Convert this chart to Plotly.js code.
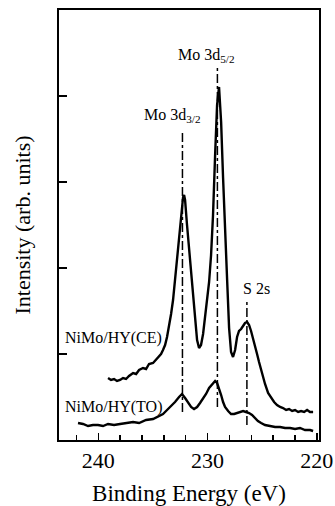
<!DOCTYPE html>
<html>
<head>
<meta charset="utf-8">
<script src="https://cdn.plot.ly/plotly-3.0.1.min.js"></script>
<style>html,body{margin:0;padding:0;background:#fff;}#chart{width:335px;height:506px;}</style>
</head>
<body>
<div id="chart"></div>
<script>
// NiMo/HY(CE) spectrum: binding energy (eV) and intensity (arb. units)
var ceEnergy = [239.11,238.84,238.56,238.29,238.01,237.74,237.46,237.19,236.82,236.54,236.27,235.91,235.63,235.36,234.99,234.72,234.44,234.26,234.08,233.89,233.71,233.53,233.34,233.16,232.98,232.79,232.61,232.43,232.24,232.15,232.06,231.88,231.69,231.51,231.33,231.14,230.96,230.78,230.60,230.41,230.23,230.05,229.86,229.68,229.50,229.31,229.13,228.95,228.76,228.58,228.40,228.21,228.03,227.85,227.67,227.48,227.30,227.12,226.93,226.75,226.57,226.38,226.20,226.02,225.84,225.65,225.47,225.29,225.10,224.92,224.74,224.46,224.19,223.91,223.64,223.36,223.09,222.81,222.54,222.26,221.99,221.71,221.44,221.16,220.89,220.62,220.34];
var ceIntensity = [62,60,61,59,60,62,61,64,67,66,70,72,71,76,77,80,83,86,90,95,103,113,126,140,160,182,205,228,243,245,240,215,190,168,145,120,100,92,95,106,122,142,158,185,225,285,335,353,318,262,205,160,112,88,83,90,103,109,111,114,117,118,115,109,102,95,86,78,70,63,56,47,42,38,35,33,32,30,31,29,30,28,29,28,30,28,28];

// NiMo/HY(TO) spectrum
var toEnergy = [241.86,241.40,240.94,240.49,240.03,239.57,239.11,238.56,238.01,237.46,236.82,236.27,235.63,234.99,234.44,234.08,233.71,233.34,232.98,232.61,232.34,232.06,231.79,231.51,231.24,230.96,230.69,230.41,230.14,229.86,229.59,229.31,229.13,228.95,228.76,228.58,228.40,228.12,227.85,227.57,227.30,227.03,226.75,226.48,226.20,225.93,225.65,225.39,225.10,224.74,224.28,223.82,223.36,222.91,222.45,221.99,221.54,221.08,220.62,220.34];
var toIntensity = [17,16,14,15,15,14,16,15,16,17,18,17,20,21,24,26,30,34,38,43,46,42,37,33,31,33,37,41,46,52,56,59,57,52,45,38,33,29,26,26,27,28,29,28,27,25,22,19,17,15,14,13,13,12,12,11,12,10,10,9];

// Peak reference lines (dash-dot)
var peakNames = ["Mo 3d<sub>3/2</sub>", "Mo 3d<sub>5/2</sub>", "S 2s"];
var peakEnergy = [232.3, 229.1, 226.4];
var peakLineTop = [310, 372, 138];
var peakLineBottom = [28, 33, 15];
var labelEnergy = [233.25, 230.12, 225.56];
var labelIntensity = [325, 385, 152];

var seriesNames = ["NiMo/HY(CE)", "NiMo/HY(TO)"];
var seriesLabelEnergy = [238.65, 238.65];
var seriesLabelIntensity = [102, 33];

var xTickVals = [240, 230, 220];
var xTickText = ["240", "230", "220"];
var yTickVals = [86, 172, 258, 344];

var FONT = "Liberation Serif, Times New Roman, serif";

var traces = [];
for (var i = 0; i < peakEnergy.length; i++) {
  traces.push({
    x: [peakEnergy[i], peakEnergy[i]],
    y: [peakLineBottom[i], peakLineTop[i]],
    mode: "lines", type: "scatter", hoverinfo: "skip", showlegend: false,
    line: {color: "#000", width: 1.5, dash: "dashdot"}
  });
}
traces.push({x: ceEnergy, y: ceIntensity, mode: "lines", type: "scatter", showlegend: false,
  line: {color: "#000", width: 2.4}});
traces.push({x: toEnergy, y: toIntensity, mode: "lines", type: "scatter", showlegend: false,
  line: {color: "#000", width: 2.4}});

var annotations = [];
for (var j = 0; j < peakNames.length; j++) {
  annotations.push({x: labelEnergy[j], y: labelIntensity[j], xref: "x", yref: "y",
    text: peakNames[j], showarrow: false, font: {family: FONT, size: 16, color: "#000"}});
}
for (var k = 0; k < seriesNames.length; k++) {
  annotations.push({x: seriesLabelEnergy[k], y: seriesLabelIntensity[k], xref: "x", yref: "y",
    text: seriesNames[k], showarrow: false, font: {family: FONT, size: 16, color: "#000"}});
}

var layout = {
  width: 335, height: 506,
  margin: {l: 59, r: 16, t: 10, b: 66},
  paper_bgcolor: "#fff", plot_bgcolor: "#fff",
  showlegend: false,
  font: {family: FONT, color: "#000"},
  xaxis: {
    range: [243.6, 219.8], showgrid: false, zeroline: false,
    showline: true, linecolor: "#000", linewidth: 2, mirror: true,
    tickmode: "array", tickvals: xTickVals, ticktext: xTickText,
    ticks: "inside", ticklen: 7, tickwidth: 1.5, tickcolor: "#000",
    minor: {dtick: 2, tick0: 0, ticks: "inside", ticklen: 5, tickwidth: 1.5, tickcolor: "#000", showgrid: false},
    tickfont: {family: FONT, size: 22, color: "#000"},
    title: {text: "Binding Energy (eV)", font: {family: FONT, size: 23, color: "#000"}, standoff: 14}
  },
  yaxis: {
    range: [0, 430], showgrid: false, zeroline: false,
    showline: true, linecolor: "#000", linewidth: 2, mirror: true,
    tickmode: "array", tickvals: yTickVals, showticklabels: false,
    ticks: "inside", ticklen: 8, tickwidth: 1.5, tickcolor: "#000",
    title: {text: "Intensity (arb. units)", font: {family: FONT, size: 22, color: "#000"}, standoff: 20}
  },
  annotations: annotations
};

Plotly.newPlot("chart", traces, layout, {staticPlot: true, displayModeBar: false});
</script>
</body>
</html>
